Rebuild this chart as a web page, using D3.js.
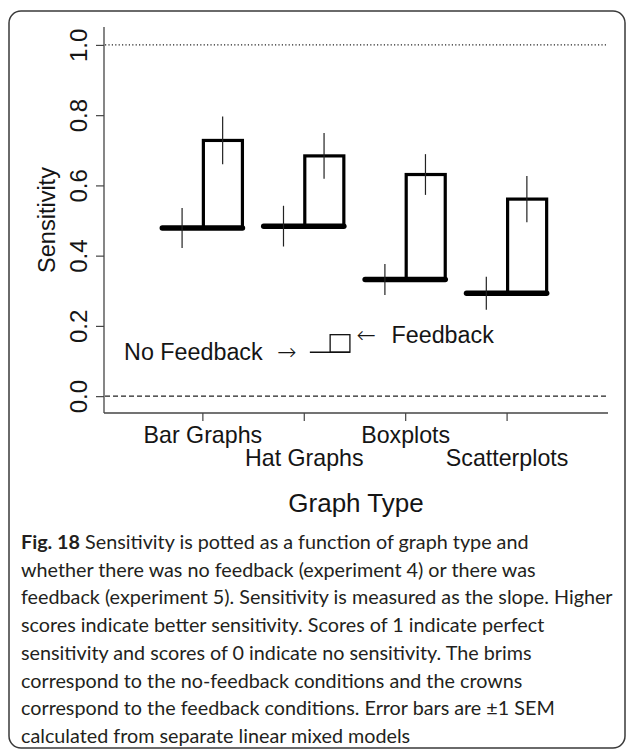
<!DOCTYPE html>
<html>
<head>
<meta charset="utf-8">
<script src="https://cdn.jsdelivr.net/npm/d3@7"></script>
<style>
  body { margin: 0; background: #fff; }
  svg { display: block; }
</style>
</head>
<body>
<script>
// Graph types along the x axis
const categories = ["Bar Graphs", "Hat Graphs", "Boxplots", "Scatterplots"];
// Sensitivity (slope) without feedback — the brims
const noFeedback = [0.479, 0.484, 0.332, 0.293];
const noFeedbackSEM = [0.057, 0.058, 0.044, 0.047];
// Sensitivity (slope) with feedback — the crowns
const feedback = [0.728, 0.684, 0.631, 0.561];
const feedbackSEM = [0.068, 0.065, 0.058, 0.066];
// Axis ticks
const yTicks = [0, 0.2, 0.4, 0.6, 0.8, 1.0];
const yTickLabels = ["0.0", "0.2", "0.4", "0.6", "0.8", "1.0"];
// Reference lines: perfect sensitivity and no sensitivity
const refLines = [{ v: 1.0, dash: "1.2 2.2" }, { v: 0.0, dash: "5 3" }];
// Legend hat: brim and crown heights
const legendBrim = 0.125;
const legendCrown = 0.175;
// Figure caption, one entry per printed line
const captionLines = [
  [{ t: "Fig. 18", b: true }, { t: " Sensitivity is potted as a function of graph type and" }],
  [{ t: "whether there was no feedback (experiment 4) or there was" }],
  [{ t: "feedback (experiment 5). Sensitivity is measured as the slope. Higher" }],
  [{ t: "scores indicate better sensitivity. Scores of 1 indicate perfect" }],
  [{ t: "sensitivity and scores of 0 indicate no sensitivity. The brims" }],
  [{ t: "correspond to the no-feedback conditions and the crowns" }],
  [{ t: "correspond to the feedback conditions. Error bars are \u00b11 SEM" }],
  [{ t: "calculated from separate linear mixed models" }]
];

const W = 629, H = 751;
const plot = { left: 104, right: 608, top: 27, bottom: 413 };
const chartFont = "'Liberation Sans', Arial, Helvetica, sans-serif";
const arrowFont = "'DejaVu Sans', sans-serif";
const ink = "#151515";

const svg = d3.select("body").append("svg")
  .attr("width", W).attr("height", H);

// Rounded frame around figure and caption
svg.append("rect")
  .attr("x", 9).attr("y", 11).attr("width", 616).attr("height", 737)
  .attr("rx", 12).attr("ry", 12)
  .attr("fill", "none").attr("stroke", "#3a3a3a").attr("stroke-width", 1.5);

const x = d3.scaleLinear().domain([0.03, 5]).range([plot.left, plot.right]);
const y = d3.scaleLinear().domain([-0.048, 1.051]).range([plot.bottom, plot.top]);
const pos = categories.map((d, i) => i + 1);

// Reference lines
svg.append("g").selectAll("line").data(refLines).join("line")
  .attr("x1", x(0.04)).attr("x2", x(4.98))
  .attr("y1", d => y(d.v)).attr("y2", d => y(d.v))
  .attr("stroke", "#222").attr("stroke-width", 1.1)
  .attr("stroke-dasharray", d => d.dash);

// Y axis
const yAxis = svg.append("g")
  .attr("transform", `translate(${plot.left},0)`)
  .call(d3.axisLeft(y).tickValues(yTicks).tickSize(8).tickSizeOuter(0)
    .tickFormat((d, i) => yTickLabels[i]));
yAxis.select(".domain").attr("stroke", "#444").attr("stroke-width", 1.3)
  .attr("d", `M0,${plot.top}V${plot.bottom}`);
yAxis.selectAll(".tick line").attr("stroke", "#444").attr("stroke-width", 1.2);
yAxis.selectAll(".tick text")
  .attr("x", null).attr("dy", null)
  .attr("transform", "translate(-17,0) rotate(-90)")
  .attr("text-anchor", "middle")
  .attr("fill", ink)
  .style("font-family", chartFont).style("font-size", "24px");

// X axis
const xAxis = svg.append("g")
  .attr("transform", `translate(0,${plot.bottom})`)
  .call(d3.axisBottom(x).tickValues(pos).tickSize(8).tickSizeOuter(0)
    .tickFormat((d, i) => categories[i]));
xAxis.select(".domain").attr("stroke", "#444").attr("stroke-width", 1.3)
  .attr("d", `M${plot.left},0H${plot.right}`);
xAxis.selectAll(".tick line").attr("stroke", "#444").attr("stroke-width", 1.2);
xAxis.selectAll(".tick text")
  .attr("dy", null)
  .attr("y", (d, i) => i % 2 === 0 ? 29.7 : 53)
  .attr("fill", ink)
  .style("font-family", chartFont).style("font-size", "23.2px");

// Axis titles
svg.append("text")
  .attr("transform", `translate(55,${(plot.top + plot.bottom) / 2}) rotate(-90)`)
  .attr("text-anchor", "middle")
  .attr("fill", ink)
  .style("font-family", chartFont).style("font-size", "23.5px")
  .text("Sensitivity");
svg.append("text")
  .attr("x", (plot.left + plot.right) / 2).attr("y", 512)
  .attr("text-anchor", "middle")
  .attr("fill", ink)
  .style("font-family", chartFont).style("font-size", "26px")
  .text("Graph Type");

// Hats: brim = no feedback, crown = feedback
const rows = categories.map((c, i) => ({
  c, x: pos[i],
  brim: noFeedback[i], brimSE: noFeedbackSEM[i],
  crown: feedback[i], crownSE: feedbackSEM[i]
}));
const hats = svg.append("g");

hats.selectAll(".crown").data(rows).join("rect")
  .attr("class", "crown")
  .attr("x", d => x(d.x + 0.01))
  .attr("width", d => x(d.x + 0.395) - x(d.x + 0.01))
  .attr("y", d => y(d.crown))
  .attr("height", d => y(d.brim) - y(d.crown))
  .attr("fill", "none").attr("stroke", "#000").attr("stroke-width", 3.2);

hats.selectAll(".brim").data(rows).join("line")
  .attr("class", "brim")
  .attr("x1", d => x(d.x - 0.395)).attr("x2", d => x(d.x + 0.395))
  .attr("y1", d => y(d.brim)).attr("y2", d => y(d.brim))
  .attr("stroke", "#000").attr("stroke-width", 5.5).attr("stroke-linecap", "round");

// Error bars (±1 SEM)
hats.selectAll(".err-brim").data(rows).join("line")
  .attr("class", "err-brim")
  .attr("x1", d => x(d.x - 0.2)).attr("x2", d => x(d.x - 0.2))
  .attr("y1", d => y(d.brim - d.brimSE)).attr("y2", d => y(d.brim + d.brimSE))
  .attr("stroke", "#222").attr("stroke-width", 1.2);
hats.selectAll(".err-crown").data(rows).join("line")
  .attr("class", "err-crown")
  .attr("x1", d => x(d.x + 0.2)).attr("x2", d => x(d.x + 0.2))
  .attr("y1", d => y(d.crown - d.crownSE)).attr("y2", d => y(d.crown + d.crownSE))
  .attr("stroke", "#222").attr("stroke-width", 1.2);

// Legend: a small hat with labelled brim and crown
const lx = 2.26;
const legend = svg.append("g");
legend.append("line")
  .attr("x1", x(lx - 0.2)).attr("x2", x(lx + 0.195))
  .attr("y1", y(legendBrim)).attr("y2", y(legendBrim))
  .attr("stroke", "#111").attr("stroke-width", 1.3);
legend.append("rect")
  .attr("x", x(lx)).attr("width", x(lx + 0.195) - x(lx))
  .attr("y", y(legendCrown)).attr("height", y(legendBrim) - y(legendCrown))
  .attr("fill", "none").attr("stroke", "#111").attr("stroke-width", 1.3);

const noFb = legend.append("text")
  .attr("x", x(1.93)).attr("y", y(legendBrim)).attr("dy", "0.35em")
  .attr("text-anchor", "end").attr("fill", ink)
  .style("font-family", chartFont).style("font-size", "23.3px");
noFb.append("tspan").text("No Feedback ");
noFb.append("tspan").attr("dx", 8).style("font-family", arrowFont).style("font-weight", 300).text("\u2192");

const fb = legend.append("text")
  .attr("x", x(2.52)).attr("y", y(legendCrown)).attr("dy", "0.35em")
  .attr("text-anchor", "start").attr("fill", ink)
  .style("font-family", chartFont).style("font-size", "23.3px");
fb.append("tspan").style("font-family", arrowFont).style("font-weight", 300).text("\u2190");
fb.append("tspan").attr("dx", 9).text(" Feedback");

// Caption
const capFont = "Lato, 'Open Sans', sans-serif";
const cap = svg.append("g").attr("fill", "#231f20")
  .style("font-family", capFont).style("font-size", "18px");
captionLines.forEach((parts, i) => {
  const t = cap.append("text").attr("x", 21).attr("y", 549 + i * 27.7);
  parts.forEach(p => t.append("tspan").attr("font-weight", p.b ? 700 : 400).text(p.t));
});
// fit the widest caption line to the text column
const widest = cap.selectAll("text").nodes()[2].getComputedTextLength();
const capSize = 18 * 592 / widest;
cap.style("font-size", capSize + "px");
</script>
</body>
</html>
